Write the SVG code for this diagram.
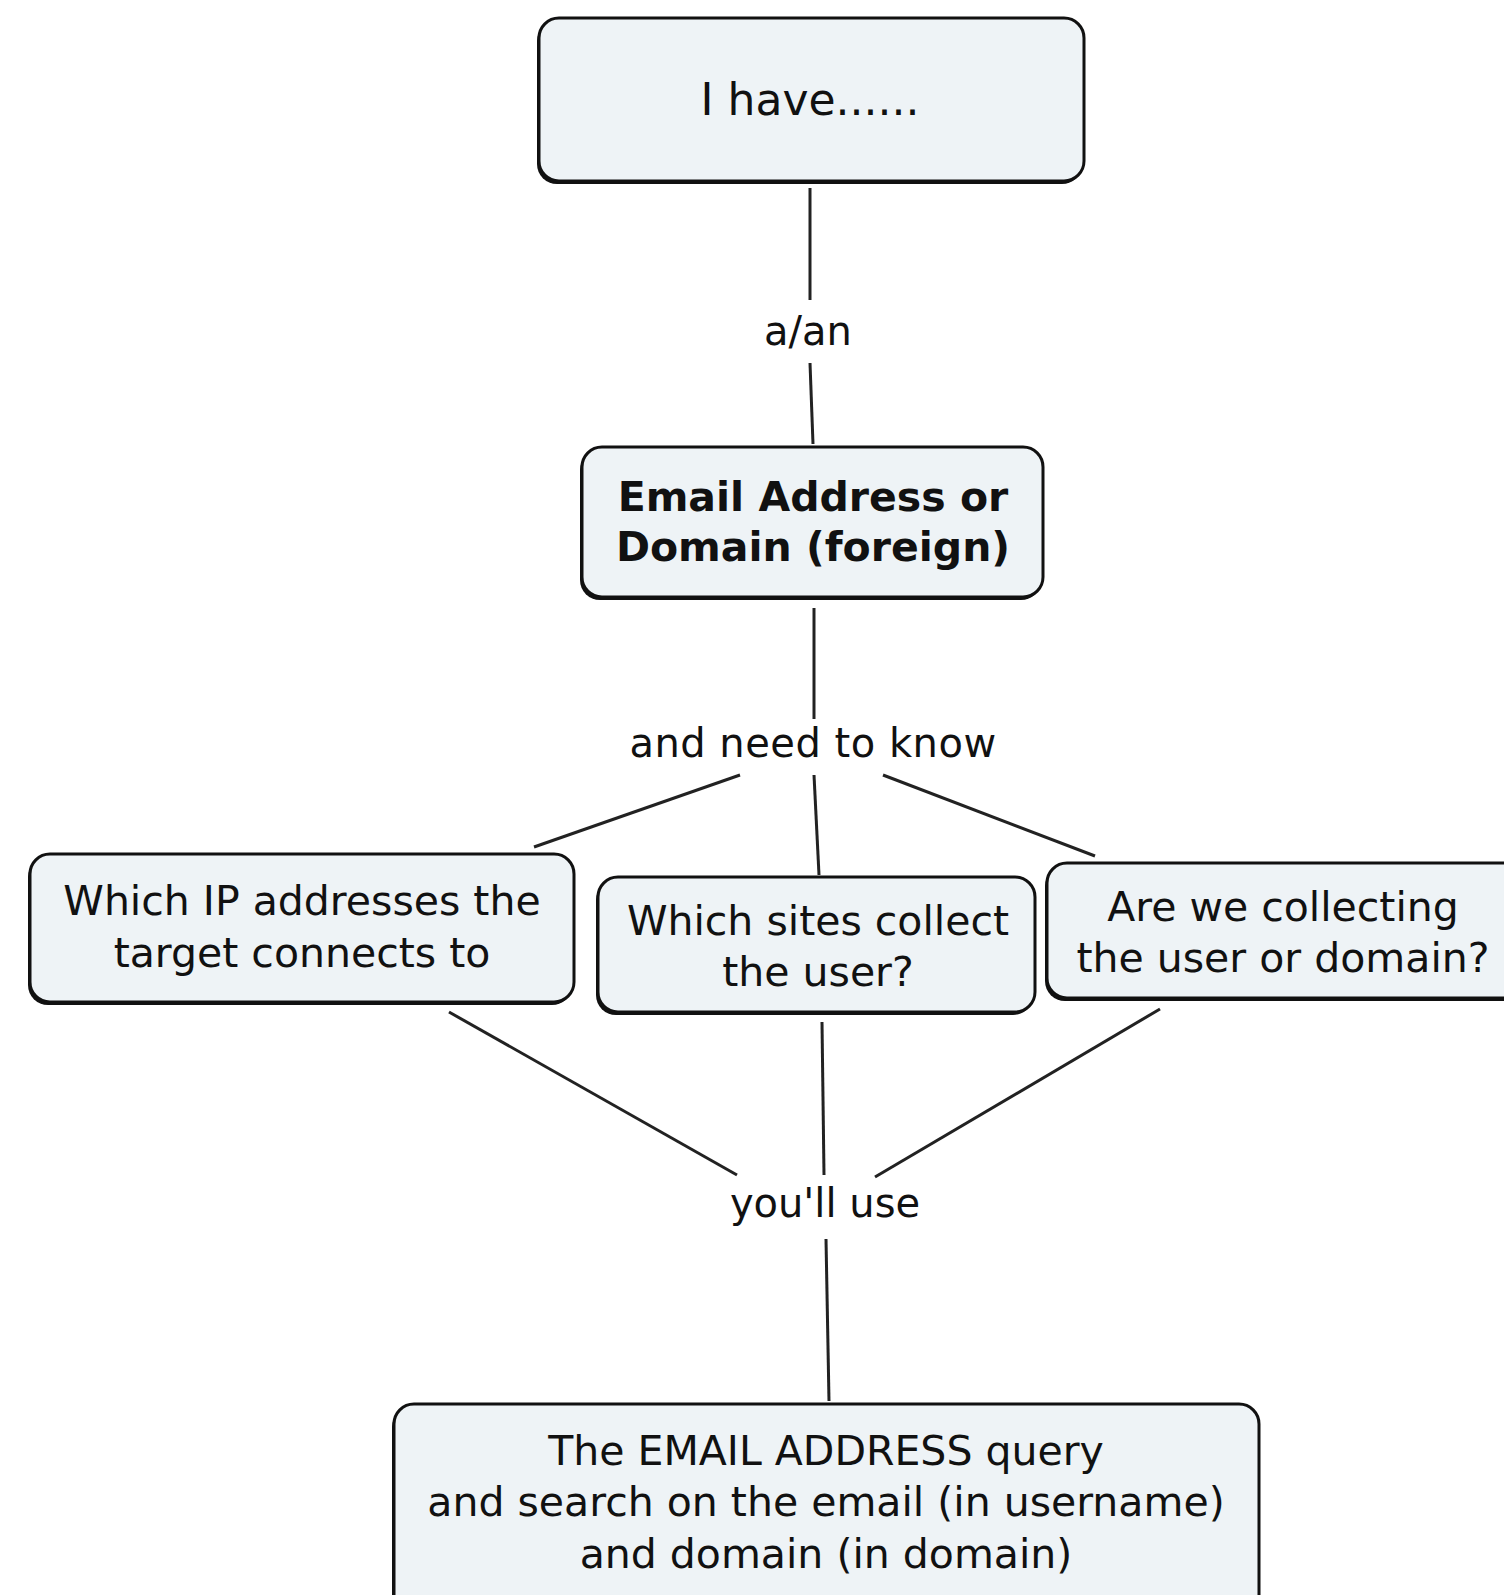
<svg xmlns="http://www.w3.org/2000/svg" width="1504" height="1595" viewBox="0 0 1504 1595">
<style>
.box{fill:#eef3f6;stroke:#111;stroke-width:3}
.sh{fill:#111}
.t{font-family:"DejaVu Sans","Liberation Sans",sans-serif;font-size:41px;fill:#111;text-anchor:middle}
.b{font-weight:bold}
.c{stroke:#222;stroke-width:3;fill:none}
.lbl{font-family:"DejaVu Sans","Liberation Sans",sans-serif;font-size:40px;fill:#111;text-anchor:middle}
</style>
<rect width="1504" height="1595" fill="#fff"/>
<g id="connectors">
<line class="c" x1="810" y1="188" x2="810" y2="300"/>
<line class="c" x1="810" y1="363" x2="813" y2="444"/>
<line class="c" x1="814" y1="608" x2="814" y2="719"/>
<line class="c" x1="740" y1="775" x2="534" y2="847"/>
<line class="c" x1="814" y1="775" x2="819" y2="875"/>
<line class="c" x1="883" y1="775" x2="1095" y2="856"/>
<line class="c" x1="449" y1="1012" x2="737" y2="1175"/>
<line class="c" x1="822" y1="1022" x2="824" y2="1175"/>
<line class="c" x1="1160" y1="1009" x2="875" y2="1177"/>
<line class="c" x1="826" y1="1239" x2="829" y2="1401"/>
<text class="lbl" x="808" y="345">a/an</text>
<text class="lbl" x="813" y="757" letter-spacing="0.5">and need to know</text>
<text class="lbl" x="825" y="1217">you'll use</text>
</g>
<g id="n1">
<rect class="sh" x="537" y="21" width="545" height="163" rx="20"/>
<rect class="box" x="539" y="18" width="545" height="163" rx="20"/>
<text class="t" x="810" y="115" style="font-size:44px">I have......</text>
</g>
<g id="n2">
<rect class="sh" x="580" y="450" width="461" height="150" rx="20"/>
<rect class="box" x="582" y="447" width="461" height="150" rx="20"/>
<text class="t b" x="813" y="511">Email Address or</text>
<text class="t b" x="813" y="561">Domain (foreign)</text>
</g>
<g id="n3">
<rect class="sh" x="28" y="857" width="544" height="148" rx="20"/>
<rect class="box" x="30" y="854" width="544" height="148" rx="20"/>
<text class="t" x="302" y="915">Which IP addresses the</text>
<text class="t" x="302" y="967">target connects to</text>
</g>
<g id="n4">
<rect class="sh" x="596" y="880" width="437" height="135" rx="20"/>
<rect class="box" x="598" y="877" width="437" height="135" rx="20"/>
<text class="t" x="818" y="935">Which sites collect</text>
<text class="t" x="818" y="986">the user?</text>
</g>
<g id="n5">
<rect class="sh" x="1045" y="866" width="480" height="135" rx="20"/>
<rect class="box" x="1047" y="863" width="480" height="135" rx="20"/>
<text class="t" x="1283" y="921">Are we collecting</text>
<text class="t" x="1283" y="972">the user or domain?</text>
</g>
<g id="n6">
<rect class="sh" x="392" y="1407" width="865" height="220" rx="20"/>
<rect class="box" x="394" y="1404" width="865" height="220" rx="20"/>
<text class="t" x="826" y="1465">The EMAIL ADDRESS query</text>
<text class="t" x="826" y="1516">and search on the email (in username)</text>
<text class="t" x="826" y="1568">and domain (in domain)</text>
</g>
</svg>
